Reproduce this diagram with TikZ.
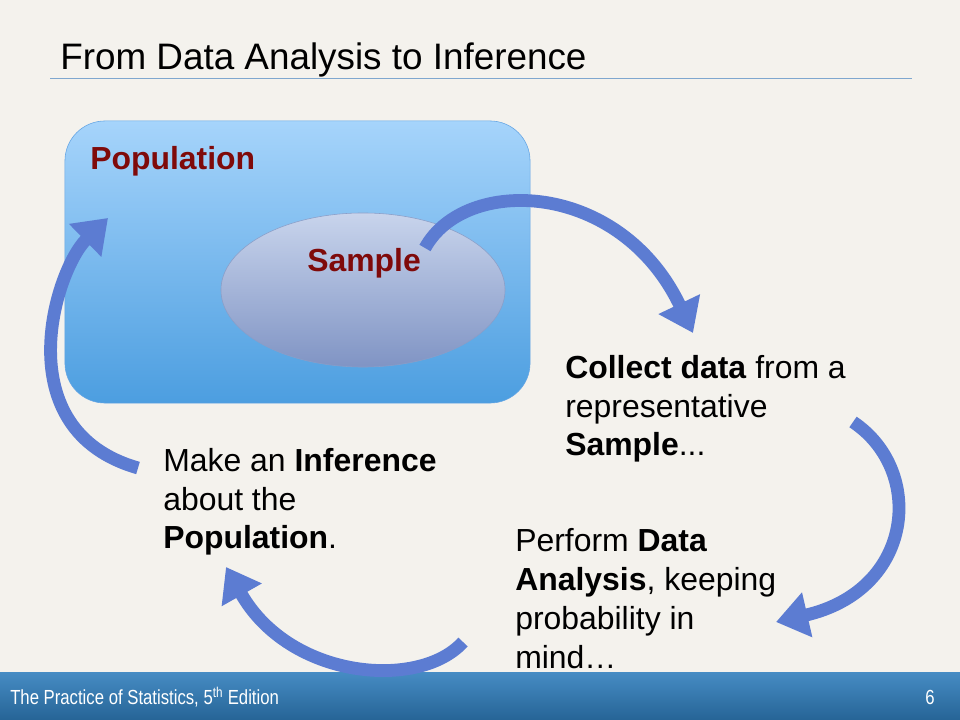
\documentclass[tikz,border=0pt]{standalone}
\usepackage{fontspec}
\setmainfont{Liberation Sans}
\usepackage{xcolor}
\usetikzlibrary{arrows.meta}
\usetikzlibrary{shapes.geometric}
\usetikzlibrary{positioning}
\definecolor{paper}{HTML}{F4F2ED}
\definecolor{popred}{HTML}{7F0A0A}
\definecolor{arrowblue}{HTML}{5C7CD2}
\definecolor{rulecol}{HTML}{7FA7CF}

\begin{document}
\begin{tikzpicture}[x=0.025cm,y=-0.025cm,
	body/.style={anchor=base west,align=left,inner sep=0pt,font=\fontsize{22.7}{27.6}\selectfont},
	foot/.style={inner sep=0pt,white,font=\fontsize{14.5}{16}\selectfont},
	bigarrow/.style={draw=arrowblue,line width=0.32cm,-{Triangle[width=1.1cm,length=0.8cm]}}]
	\fill[paper] (0,0) rectangle (960,720);
	\useasboundingbox (0,0) rectangle (960,720);
	\shade[top color={rgb,255:red,70;green,140;blue,196},bottom color={rgb,255:red,38;green,100;blue,150}] (0,672) rectangle (960,720);
	\node[anchor=base west,inner sep=0pt,font=\fontsize{26.2}{30}\selectfont] (title) at (60,70) {From Data Analysis to Inference};
	\draw[rulecol,line width=0.6pt] (50,78)--(912,78);
	\node[draw={rgb,255:red,100;green,165;blue,228},rounded corners=1cm,minimum width=11.625cm,minimum height=7.05cm,top color={rgb,255:red,166;green,212;blue,251},bottom color={rgb,255:red,76;green,158;blue,224}] (popbox) at (297.5,262) {};
	\node[ellipse,draw={rgb,255:red,138;green,158;blue,200},minimum width=7.1cm,minimum height=3.85cm,top color={rgb,255:red,200;green,212;blue,236},bottom color={rgb,255:red,128;green,148;blue,196}] (sample) at (363,290) {};
	\node[body,popred,font=\bfseries\fontsize{22.7}{27.6}\selectfont] (poplabel) at (90,170) {Population};
	\node[body,popred,font=\bfseries\fontsize{22.7}{27.6}\selectfont] (samplelabel) at (307,272) {Sample};
	\node[body] (collect) at (565,456) {\textbf{Collect data} from a\\representative\\\textbf{Sample}...};
	\node[body] (perform) at (515,668) {Perform \textbf{Data}\\\textbf{Analysis}, keeping\\probability in\\mind…};
	\node[body] (infer) at (163,549) {Make an \textbf{Inference}\\about the\\\textbf{Population}.};
	\node[foot,anchor=west] (footer) at (10,697) {\scalebox{0.82}[1]{The Practice of Statistics, 5\textsuperscript{th} Edition}};
	\node[foot] (pagenum) at (930,697) {\scalebox{0.82}[1]{6}};
	\coordinate (a1s) at (425,248);
	\coordinate (a1e) at (693,333);
	\coordinate (a2s) at (853,422);
	\coordinate (a2e) at (776,622);
	\coordinate (a3s) at (463,642);
	\coordinate (a3e) at (226,567);
	\coordinate (a4s) at (138,468);
	\coordinate (a4e) at (108,218);
	\draw[bigarrow] (a1s) .. controls (465,175) and (620,180) .. (a1e);
	\draw[bigarrow] (a2s) .. controls (925,470) and (915,590) .. (a2e);
	\draw[bigarrow] (a3s) .. controls (420,690) and (290,680) .. (a3e);
	\draw[bigarrow] (a4s) .. controls (5,430) and (55,270) .. (a4e);
\end{tikzpicture}
\end{document}
